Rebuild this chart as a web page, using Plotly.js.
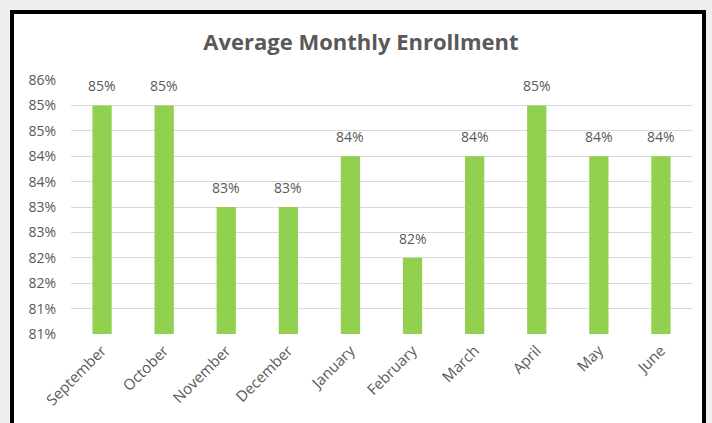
<!DOCTYPE html>
<html>
<head>
<meta charset="utf-8">
<script src="https://cdn.plot.ly/plotly-3.0.1.min.js"></script>
<style>
  html, body { margin: 0; padding: 0; width: 712px; height: 423px; overflow: hidden; background: #efefef; }
  #frame { position: absolute; left: 10px; top: 10px; width: 688px; height: 430px; background: #fff; border: 4px solid #000; border-bottom: none; }
  #chart { position: absolute; left: 0; top: 0; width: 712px; height: 423px; }
</style>
</head>
<body>
<div id="frame"></div>
<div id="chart"></div>
<script>
const months = ["September","October","November","December","January","February","March","April","May","June"];
const enrollment = [0.85, 0.85, 0.83, 0.83, 0.84, 0.82, 0.84, 0.85, 0.84, 0.84];
const yTickValues = [0.805, 0.81, 0.815, 0.82, 0.825, 0.83, 0.835, 0.84, 0.845, 0.85, 0.855];
const yTickLabels = ["81%","81%","82%","82%","83%","83%","84%","84%","85%","85%","86%"];

const grey = "#595959";
const FONT = "'Open Sans', Lato, sans-serif";

const trace = {
  type: "bar",
  x: months,
  y: enrollment,
  marker: { color: "#92d050" },
  hoverinfo: "skip"
};

const labels = months.map((m, i) => ({
  x: m,
  y: enrollment[i],
  xref: "x", yref: "y",
  text: Math.round(enrollment[i] * 100) + "%",
  showarrow: false,
  yanchor: "bottom",
  yshift: 8,
  font: { family: FONT, size: 14, color: grey }
}));

const layout = {
  width: 712, height: 423,
  margin: { l: 71, r: 20, t: 80, b: 89 },
  paper_bgcolor: "rgba(0,0,0,0)",
  plot_bgcolor: "rgba(0,0,0,0)",
  bargap: 0.69,
  showlegend: false,
  annotations: labels,
  title: {
    text: "Average Monthly Enrollment",
    x: 0.507, xanchor: "center", y: 0.9, yanchor: "middle",
    font: { family: FONT, size: 22, color: grey, weight: 700 }
  },
  xaxis: {
    type: "category",
    tickangle: -45,
    showgrid: false,
    showline: false,
    ticks: "",
    ticklabelstandoff: 4,
    tickfont: { family: FONT, size: 15, color: grey },
    automargin: false
  },
  yaxis: {
    range: [0.805, 0.855],
    tickvals: yTickValues,
    ticktext: yTickLabels,
    showgrid: true,
    gridcolor: "#d9d9d9",
    gridwidth: 1,
    zeroline: false,
    showline: false,
    ticks: "",
    ticklabelstandoff: 14,
    tickfont: { family: FONT, size: 14, color: grey },
    automargin: false
  }
};

Plotly.newPlot("chart", [trace], layout, { staticPlot: true, displayModeBar: false });
</script>
</body>
</html>
